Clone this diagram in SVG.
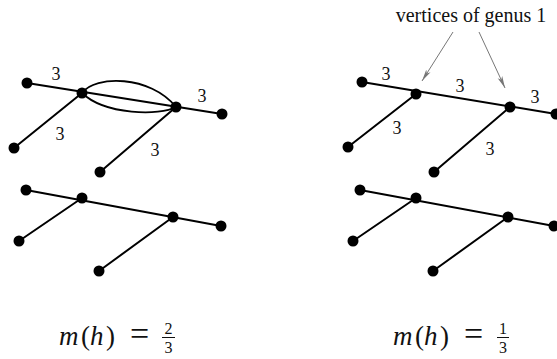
<svg xmlns="http://www.w3.org/2000/svg" width="557" height="359" viewBox="0 0 557 359">
<style>
  .edge { stroke: #000; stroke-width: 2; fill: none; stroke-linecap: round; }
  .arc { stroke: #000; stroke-width: 1.8; fill: none; }
  .dot { fill: #000; }
  .lbl { font-size: 18px; text-anchor: middle; fill: #111; }
  .note { font-size: 20px; text-anchor: middle; fill: #111; }
  .ptr { stroke: #777; stroke-width: 1; fill: none; }
  .fx { font-size: 27px; fill: #111; }
  .it { font-style: italic; }
  .fr { font-size: 16px; text-anchor: middle; fill: #111; }
</style>
<defs>
  <marker id="ah" viewBox="0 0 12 6" refX="12" refY="3" markerWidth="12" markerHeight="6" markerUnits="userSpaceOnUse" orient="auto">
    <path d="M0,0.5 L12,3 L0,5.5 L3,3 Z" fill="#777"/>
  </marker>
</defs>
<rect width="557" height="359" fill="#fff"/>

<g id="connectors">
  <line class="edge" x1="27" y1="83" x2="222" y2="114"/>
  <line class="edge" x1="82" y1="93" x2="14" y2="148"/>
  <line class="edge" x1="176" y1="107" x2="100" y2="172"/>
  <path class="arc" d="M82,93 C95,75 150,75 176,107"/>
  <path class="arc" d="M82,93 C105,115 160,116 176,107"/>
  <line class="edge" x1="26" y1="190" x2="221" y2="226"/>
  <line class="edge" x1="82" y1="198" x2="19" y2="241"/>
  <line class="edge" x1="173" y1="217" x2="99" y2="271"/>
  <line class="edge" x1="362" y1="82" x2="556" y2="114"/>
  <line class="edge" x1="416" y1="94" x2="348" y2="147"/>
  <line class="edge" x1="510" y1="107" x2="434" y2="172"/>
  <line class="edge" x1="360" y1="190" x2="554" y2="226"/>
  <line class="edge" x1="416" y1="198" x2="353" y2="241"/>
  <line class="edge" x1="508" y1="217" x2="433" y2="271"/>
  <line class="ptr" x1="453" y1="32" x2="422" y2="81" marker-end="url(#ah)"/>
  <line class="ptr" x1="479" y1="32" x2="505" y2="88" marker-end="url(#ah)"/>
</g>

<g id="tl-leaf-left"><circle class="dot" cx="27" cy="83" r="5.5"/></g>
<g id="tl-A"><circle class="dot" cx="82" cy="93" r="5.5"/></g>
<g id="tl-B"><circle class="dot" cx="176" cy="107" r="5.5"/></g>
<g id="tl-leaf-right"><circle class="dot" cx="222" cy="114" r="5.5"/></g>
<g id="tl-leaf-ll"><circle class="dot" cx="14" cy="148" r="5.5"/></g>
<g id="tl-leaf-lb"><circle class="dot" cx="100" cy="172" r="5.5"/></g>

<g id="bl-leaf-left"><circle class="dot" cx="26" cy="190" r="5.5"/></g>
<g id="bl-A"><circle class="dot" cx="82" cy="198" r="5.5"/></g>
<g id="bl-B"><circle class="dot" cx="173" cy="217" r="5.5"/></g>
<g id="bl-leaf-right"><circle class="dot" cx="221" cy="226" r="5.5"/></g>
<g id="bl-leaf-ll"><circle class="dot" cx="19" cy="241" r="5.5"/></g>
<g id="bl-leaf-lb"><circle class="dot" cx="99" cy="271" r="5.5"/></g>

<g id="tr-leaf-left"><circle class="dot" cx="362" cy="82" r="5.5"/></g>
<g id="tr-A"><circle class="dot" cx="416" cy="94" r="5.5"/></g>
<g id="tr-B"><circle class="dot" cx="510" cy="107" r="5.5"/></g>
<g id="tr-leaf-right"><circle class="dot" cx="556" cy="114" r="5.5"/></g>
<g id="tr-leaf-ll"><circle class="dot" cx="348" cy="147" r="5.5"/></g>
<g id="tr-leaf-lb"><circle class="dot" cx="434" cy="172" r="5.5"/></g>

<g id="br-leaf-left"><circle class="dot" cx="360" cy="190" r="5.5"/></g>
<g id="br-A"><circle class="dot" cx="416" cy="198" r="5.5"/></g>
<g id="br-B"><circle class="dot" cx="508" cy="217" r="5.5"/></g>
<g id="br-leaf-right"><circle class="dot" cx="554" cy="226" r="5.5"/></g>
<g id="br-leaf-ll"><circle class="dot" cx="353" cy="241" r="5.5"/></g>
<g id="br-leaf-lb"><circle class="dot" cx="433" cy="271" r="5.5"/></g>

<g font-family="'Liberation Serif', 'DejaVu Serif', serif">
<g id="labels">
  <text class="lbl" x="56" y="80">3</text>
  <text class="lbl" x="202" y="102">3</text>
  <text class="lbl" x="60" y="140">3</text>
  <text class="lbl" x="155" y="156">3</text>
  <text class="lbl" x="386" y="80">3</text>
  <text class="lbl" x="460" y="92">3</text>
  <text class="lbl" x="535" y="103">3</text>
  <text class="lbl" x="397" y="134">3</text>
  <text class="lbl" x="490" y="155">3</text>
</g>

<g id="note">
  <text class="note" x="471" y="22">vertices of genus 1</text>
</g>

<g id="formula-left">
  <text class="fx" x="59" y="345"><tspan class="it">m</tspan><tspan x="81">(</tspan><tspan class="it" x="90">h</tspan><tspan x="106">)</tspan><tspan x="130" font-size="34">=</tspan></text>
  <text class="fr" x="168.5" y="334">2</text>
  <line x1="162" y1="337.5" x2="175" y2="337.5" stroke="#111" stroke-width="1"/>
  <text class="fr" x="168.5" y="353">3</text>
</g>
<g id="formula-right">
  <text class="fx" x="393" y="345"><tspan class="it">m</tspan><tspan x="415">(</tspan><tspan class="it" x="424">h</tspan><tspan x="440">)</tspan><tspan x="464" font-size="34">=</tspan></text>
  <text class="fr" x="503" y="334">1</text>
  <line x1="497" y1="337.5" x2="509" y2="337.5" stroke="#111" stroke-width="1"/>
  <text class="fr" x="503" y="353">3</text>
</g>
</g>
</svg>
